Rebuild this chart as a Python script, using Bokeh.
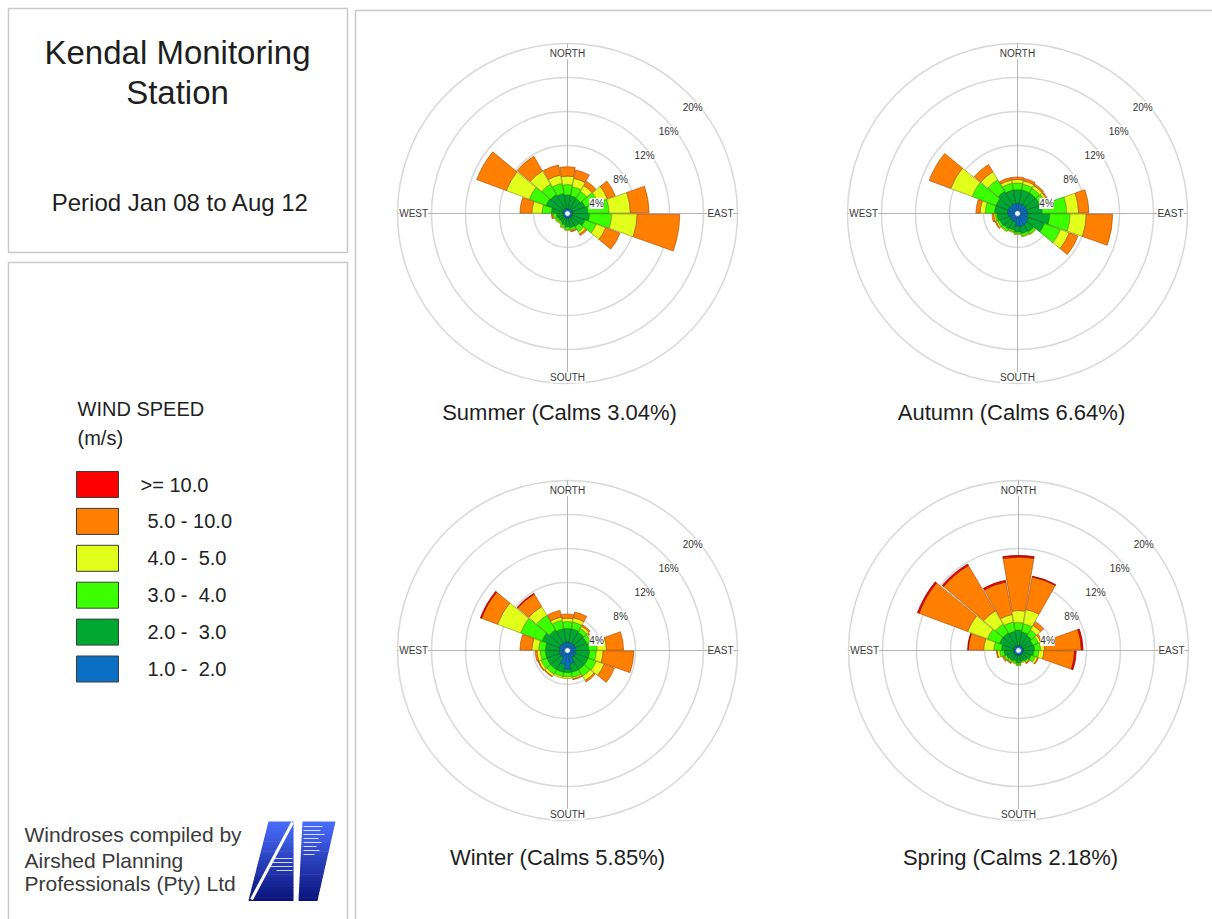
import numpy as np
from bokeh.plotting import figure
from bokeh.models import Range1d, ColumnDataSource
from bokeh.core.properties import value
from bokeh.embed import file_html
from bokeh.resources import INLINE

# ---------------------------------------------------------------- data
directions = [0, 20, 40, 60, 80, 100, 120, 140, 160, 180,
              200, 220, 240, 260, 280, 300, 320, 340]   # bearing of each petal (deg)

speed_labels = ["1.0 -  2.0", "2.0 -  3.0", "3.0 -  4.0",
                "4.0 -  5.0", "5.0 - 10.0", ">= 10.0"]
speed_colors = ["#0a6fc2", "#00a832", "#3cff00", "#e2ff1c", "#ff8000", "#ff0000"]
speed_edges = ["#06406e", "#005a1c", "#1f8a00", "#7f8a00", "#a84200", "#7a0000"]

ring_levels = [4, 8, 12, 16, 20]
ring_labels = ["4%", "8%", "12%", "16%", "20%"]

compass_labels = ["NORTH", "EAST", "SOUTH", "WEST"]

seasons = ["Summer", "Autumn", "Winter", "Spring"]
calms = [3.04, 6.64, 5.85, 2.18]

# frequency (%) per speed class (rows, slow -> fast) and direction (columns)
summer_freq = [
    [0.6, 0.6, 0.6, 0.6, 0.6, 0.6, 0.6, 0.6, 0.6, 0.6, 0.6, 0.5, 0.5, 0.5, 0.6, 0.6, 0.6, 0.6],
    [1.6, 1.5, 1.4, 1.6, 1.8, 2.0, 1.6, 1.2, 1.1, 1.0, 0.8, 0.7, 0.7, 0.8, 1.3, 2.1, 2.0, 1.8],
    [1.2, 1.1, 1.0, 1.6, 2.5, 2.6, 1.4, 0.7, 0.3, 0.3, 0.3, 0.2, 0.3, 0.4, 1.1, 2.1, 1.4, 1.2],
    [1.0, 1.0, 0.8, 1.2, 2.5, 3.0, 1.2, 0.3, 0.1, 0.1, 0.1, 0.1, 0.1, 0.1, 1.2, 2.9, 1.8, 1.0],
    [1.1, 1.0, 0.6, 1.0, 2.2, 5.0, 1.8, 0.2, 0.1, 0.0, 0.0, 0.0, 0.0, 0.1, 1.4, 3.7, 2.0, 1.2],
    [0.0, 0.0, 0.0, 0.0, 0.0, 0.0, 0.0, 0.0, 0.0, 0.0, 0.0, 0.0, 0.0, 0.0, 0.0, 0.0, 0.0, 0.0],
]
autumn_freq = [
    [1.2, 1.2, 1.2, 1.2, 1.2, 1.2, 1.4, 1.5, 1.6, 1.5, 1.0, 1.0, 1.0, 1.1, 1.2, 1.2, 1.2, 1.2],
    [1.6, 1.6, 1.6, 1.6, 1.7, 2.6, 2.0, 1.0, 0.8, 0.7, 1.0, 1.1, 1.2, 1.3, 1.5, 1.5, 1.8, 1.6],
    [0.8, 0.7, 0.6, 0.7, 2.9, 2.4, 2.0, 0.3, 0.3, 0.2, 0.2, 0.3, 0.3, 0.2, 1.1, 3.0, 1.6, 0.8],
    [0.4, 0.4, 0.4, 0.3, 1.4, 1.9, 1.1, 0.1, 0.1, 0.1, 0.1, 0.1, 0.2, 0.2, 0.6, 2.7, 1.1, 0.4],
    [0.3, 0.3, 0.2, 0.1, 1.2, 3.1, 1.1, 0.0, 0.0, 0.0, 0.0, 0.0, 0.1, 0.2, 0.5, 2.7, 1.0, 0.3],
    [0.0, 0.0, 0.0, 0.0, 0.0, 0.0, 0.0, 0.0, 0.0, 0.0, 0.0, 0.0, 0.0, 0.0, 0.0, 0.0, 0.0, 0.0],
]
winter_freq = [
    [1.0, 1.0, 1.0, 1.0, 1.0, 1.0, 1.0, 1.0, 1.6, 2.2, 1.7, 1.0, 1.0, 1.0, 1.0, 1.0, 1.0, 1.0],
    [1.6, 1.6, 1.5, 1.4, 1.5, 1.6, 1.6, 1.6, 1.0, 0.4, 0.9, 1.6, 1.6, 1.6, 1.6, 2.2, 1.8, 1.6],
    [0.8, 0.8, 0.5, 0.5, 1.0, 0.8, 1.0, 0.9, 0.6, 0.5, 0.5, 0.6, 0.7, 0.6, 0.8, 2.7, 2.0, 1.0],
    [0.4, 0.5, 0.3, 0.2, 1.1, 0.8, 1.0, 0.6, 0.2, 0.2, 0.2, 0.3, 0.3, 0.4, 0.8, 2.9, 1.2, 0.4],
    [0.5, 0.7, 0.2, 0.1, 2.0, 3.6, 1.3, 0.2, 0.1, 0.0, 0.0, 0.1, 0.1, 0.2, 1.4, 2.0, 1.7, 0.8],
    [0.0, 0.0, 0.0, 0.0, 0.0, 0.0, 0.0, 0.0, 0.0, 0.0, 0.0, 0.0, 0.0, 0.0, 0.0, 0.15, 0.1, 0.0],
]
spring_freq = [
    [0.6, 0.6, 0.6, 0.6, 0.6, 0.6, 0.6, 0.6, 0.6, 0.6, 0.6, 0.6, 0.6, 0.6, 0.6, 0.6, 0.6, 0.6],
    [1.8, 1.6, 1.4, 1.2, 1.3, 1.2, 1.0, 0.8, 0.7, 0.9, 0.7, 0.8, 0.9, 1.1, 1.4, 1.8, 1.8, 1.7],
    [0.9, 1.0, 0.8, 0.7, 0.7, 0.6, 0.5, 0.2, 0.1, 0.2, 0.2, 0.2, 0.3, 0.5, 0.9, 1.5, 1.2, 1.1],
    [1.4, 1.7, 0.6, 0.3, 0.5, 0.6, 0.3, 0.1, 0.1, 0.1, 0.1, 0.1, 0.1, 0.3, 1.2, 2.5, 1.8, 0.9],
    [6.3, 3.9, 0.5, 0.2, 4.3, 3.6, 0.1, 0.1, 0.0, 0.0, 0.0, 0.1, 0.1, 0.1, 1.8, 6.1, 6.2, 3.9],
    [0.2, 0.1, 0.0, 0.0, 0.2, 0.2, 0.0, 0.0, 0.0, 0.0, 0.0, 0.0, 0.0, 0.0, 0.1, 0.2, 0.2, 0.2],
]
season_freqs = [summer_freq, autumn_freq, winter_freq, spring_freq]

# ---------------------------------------------------------------- layout
W, H = 1212, 919
PX_PER_PCT = 8.5                      # screen pixels per 1 % of frequency
rose_centers = [(567, 213), (1017, 213), (567, 650), (1018, 650)]
caption_pos = [(559, 412), (1011, 412), (557, 857), (1010, 857)]
PETAL_WIDTH = 19.0                    # degrees
FONT = "Liberation Sans"

p = figure(width=W, height=H, x_range=Range1d(0, W), y_range=Range1d(H, 0),
           output_backend="svg", toolbar_location=None, title=None,
           min_border=0, x_axis_location=None, y_axis_location=None,
           background_fill_color="white", border_fill_color="white",
           outline_line_color=None)
p.grid.visible = False

# panel frames
p.quad(left=[8, 8, 355], right=[347, 347, 1216], top=[8, 262, 10], bottom=[252, 930, 930],
       fill_color=None, line_color="#c9c9c9", line_width=1.5)

# one pair of ranges per rose, in frequency units, centred on the rose
xr, yr = {}, {}
for i, (cx, cy) in enumerate(rose_centers):
    xr[f"rx{i}"] = Range1d(-cx / PX_PER_PCT, (W - cx) / PX_PER_PCT)
    yr[f"ry{i}"] = Range1d(-(H - cy) / PX_PER_PCT, cy / PX_PER_PCT)
p.extra_x_ranges = xr
p.extra_y_ranges = yr

dirs = np.array(directions, dtype=float)
half = PETAL_WIDTH / 2.0
rmax = ring_levels[-1]
compass_xy = [(0, 18.8), (18.0, 0), (0, -19.3), (-18.1, 0)]

for i, freq in enumerate(season_freqs):
    rn = dict(x_range_name=f"rx{i}", y_range_name=f"ry{i}")
    n = len(ring_levels)

    # range rings and cross hairs
    p.circle(x=[0] * n, y=[0] * n, radius=ring_levels, fill_color=None,
             line_color="#d8d8d8", line_width=1.5, **rn)
    p.segment(x0=[-rmax, 0], y0=[0, -rmax], x1=[rmax, 0], y1=[0, rmax],
              line_color="#b4b4b4", line_width=1, **rn)

    # stacked petals
    cum = np.cumsum(np.array(freq), axis=0)
    inner = np.vstack([np.zeros(len(directions)), cum[:-1]])
    for k in range(len(speed_labels)):
        m = (cum[k] - inner[k]) > 1e-9
        if not m.any():
            continue
        b = dirs[m]
        src = ColumnDataSource(dict(
            x=np.zeros(m.sum()), y=np.zeros(m.sum()),
            r0=inner[k][m], r1=cum[k][m],
            a0=np.radians(90 - b - half), a1=np.radians(90 - b + half)))
        p.annular_wedge(x="x", y="y", inner_radius="r0", outer_radius="r1",
                        start_angle="a0", end_angle="a1", source=src,
                        fill_color=speed_colors[k], line_color=speed_edges[k],
                        line_width=0.6, **rn)

    # calm centre
    p.circle(x=[0], y=[0], radius=[0.33], fill_color="white",
             line_color=speed_colors[0], line_width=0.8, **rn)

    # ring labels
    diag = np.sqrt(0.5)
    p.text(x=[r * diag for r in ring_levels], y=[r * diag for r in ring_levels],
           text=ring_labels, x_offset=5, y_offset=14,
           text_font=value(FONT), text_font_size="10px", text_color="#333333",
           text_align="center", text_baseline="middle",
           background_fill_color="white", **rn)

    # compass labels
    p.text(x=[c[0] for c in compass_xy], y=[c[1] for c in compass_xy],
           text=compass_labels, text_font=value(FONT), text_font_size="10px",
           text_color="#3a3a3a", text_align="center", text_baseline="middle",
           background_fill_color="white", **rn)

# captions
p.text(x=[c[0] for c in caption_pos], y=[c[1] for c in caption_pos],
       text=[f"{s} (Calms {c:.2f}%)" for s, c in zip(seasons, calms)],
       text_font=value(FONT), text_font_size="22px", text_color="#1e1e1e",
       text_align="center", text_baseline="middle")

# title panel
p.text(x=[177, 177], y=[52, 92], text=["Kendal Monitoring", "Station"],
       text_font=value(FONT), text_font_size="33px", text_color="#1e1e1e",
       text_align="center", text_baseline="middle")
p.text(x=[180], y=[202], text=["Period Jan 08 to Aug 12"],
       text_font=value(FONT), text_font_size="24px", text_color="#1e1e1e",
       text_align="center", text_baseline="middle")

# legend
p.text(x=[77, 77], y=[408, 437], text=["WIND SPEED", "(m/s)"],
       text_font=value(FONT), text_font_size="20px", text_color="#222222",
       text_align="left", text_baseline="middle")
leg_y = [484 + 36.9 * j for j in range(len(speed_labels))]
leg_cols = speed_colors[::-1]
leg_text = speed_labels[::-1]
p.quad(left=[76] * len(leg_y), right=[118] * len(leg_y),
       top=[y - 13 for y in leg_y], bottom=[y + 13 for y in leg_y],
       fill_color=leg_cols, line_color="#3c3c3c", line_width=1)
leg_tx = [140] + [147] * (len(leg_text) - 1)
p.text(x=leg_tx, y=leg_y, text=[t.replace("  ", " \u00a0") for t in leg_text],
       text_font=value(FONT), text_font_size="20px", text_color="#222222",
       text_align="left", text_baseline="middle")

# credit
p.text(x=[24, 24, 24], y=[834, 860, 883],
       text=["Windroses compiled by", "Airshed Planning", "Professionals (Pty) Ltd"],
       text_font=value(FONT), text_font_size="21px", text_color="#3a3a3a",
       text_align="left", text_baseline="middle")

# logo: two slanted blue blocks with a vertical gradient
def hexmix(c0, c1, t):
    a = [int(c0[i:i + 2], 16) for i in (1, 3, 5)]
    b = [int(c1[i:i + 2], 16) for i in (1, 3, 5)]
    return "#" + "".join(f"{int(round(x + (y - x) * t)):02x}" for x, y in zip(a, b))

top_y, bot_y, nb = 821.0, 900.0, 24
xs, ys, cols = [], [], []
for j in range(nb):
    y0 = top_y + (bot_y - top_y) * j / nb
    y1 = top_y + (bot_y - top_y) * (j + 1) / nb + 0.6
    t0 = (y0 - top_y) / (bot_y - top_y)
    t1 = min((y1 - top_y) / (bot_y - top_y), 1.0)
    col = hexmix("#4a6dff", "#0a137a", (t0 + t1) / 2)
    # left block
    xl0, xl1 = 268 + (248 - 268) * t0, 268 + (248 - 268) * t1
    xs.append([xl0, 293, 293, xl1]); ys.append([y0, y0, y1, y1]); cols.append(col)
    # right block
    a0, a1 = 302 + (298 - 302) * t0, 302 + (298 - 302) * t1
    b0, b1 = 335 + (317 - 335) * t0, 335 + (317 - 335) * t1
    xs.append([a0, b0, b1, a1]); ys.append([y0, y0, y1, y1]); cols.append(col)
p.patches(xs=xs, ys=ys, fill_color=cols, line_color=None)
p.line(x=[292, 251], y=[822, 899], line_color="white", line_width=3)
p.segment(x0=[303] * 8, y0=[826 + 4 * j for j in range(8)],
          x1=[322, 320, 324, 318, 321, 316, 319, 314], y1=[826 + 4 * j for j in range(8)],
          line_color="white", line_width=0.8)
p.segment(x0=[274, 272, 270, 276], y0=[858, 862, 866, 870],
          x1=[292, 292, 292, 292], y1=[858, 862, 866, 870],
          line_color="white", line_width=0.8)

open("out.html", "w").write(file_html(p, INLINE))
